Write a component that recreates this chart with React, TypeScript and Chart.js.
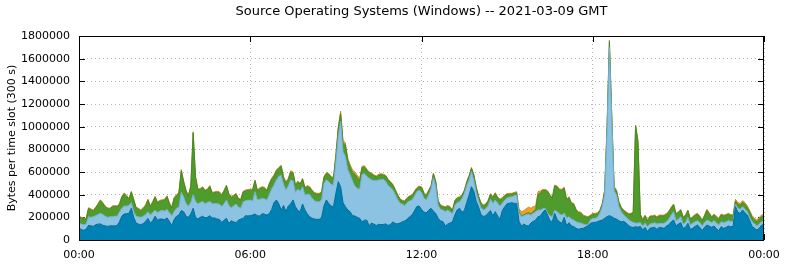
import React, { useEffect, useRef } from "react";
import { Chart, registerables } from "chart.js";

Chart.register(...registerables);

// 5-minute slots from 00:00 to 24:00 (289 samples); values in kB, cumulative layer tops
const slotMinutes = 5;
const titleText = "Source Operating Systems (Windows) -- 2021-03-09 GMT";
const yAxisTitle = "Bytes per time slot (300 s)";
const yTicksMax = 1800000;
const yTickStep = 200000;
const xTickStepMinutes = 360;

// top of the dark blue layer
const darkTop = [
  105, 92, 85, 95, 130, 125, 120, 135, 140, 142,
  130, 125, 120, 125, 125, 125, 128, 160, 210, 230,
  232, 235, 280, 200, 150, 140, 135, 145, 165, 190,
  150, 170, 210, 175, 185, 185, 180, 195, 165, 125,
  180, 210, 220, 260, 250, 210, 200, 230, 280, 200,
  185, 200, 210, 195, 200, 215, 195, 195, 185, 182,
  155, 175, 191, 145, 170, 160, 153, 175, 185, 190,
  215, 212, 215, 220, 229, 215, 212, 232, 228, 220,
  232, 270, 330, 353, 320, 265, 305, 250, 300, 320,
  353, 294, 260, 250, 318, 265, 230, 205, 192, 185,
  182, 182, 200, 300, 353, 323, 300, 294, 412, 515,
  470, 330, 294, 265, 250, 215, 212, 200, 191, 160,
  175, 175, 125, 150, 140, 128, 138, 135, 138, 142,
  128, 140, 160, 145, 143, 150, 162, 168, 185, 205,
  220, 255, 295, 300, 270, 245, 240, 262, 280, 255,
  235, 190, 170, 162, 125, 140, 150, 160, 220, 265,
  280, 245, 260, 330, 395, 470, 430, 340, 290, 225,
  208, 215, 235, 260, 212, 250, 212, 185, 260, 294,
  320, 325, 329, 323, 323, 165, 123, 140, 128, 123,
  150, 165, 176, 206, 212, 245, 265, 220, 170, 162,
  235, 182, 160, 147, 200, 125, 153, 125, 118, 103,
  94, 100, 103, 115, 123, 147, 153, 155, 162, 170,
  176, 191, 206, 215, 206, 191, 185, 170, 160, 165,
  150, 130, 115, 110, 118, 112, 120, 88, 112, 74,
  103, 108, 112, 94, 112, 108, 103, 123, 135, 160,
  176, 123, 141, 153, 103, 112, 147, 94, 103, 120,
  132, 112, 82, 112, 132, 122, 112, 123, 100, 82,
  118, 103, 110, 123, 118, 118, 294, 245, 235, 265,
  240, 220, 170, 120, 103, 88, 103, 132, 135,
];

// top of the light blue layer
const lightTop = [
  150, 140, 135, 140, 205, 200, 205, 215, 225, 235,
  225, 210, 200, 205, 205, 210, 210, 245, 280, 300,
  300, 305, 330, 250, 210, 205, 200, 210, 225, 250,
  220, 240, 265, 240, 255, 260, 255, 270, 240, 215,
  250, 280, 290, 420, 380, 320, 300, 330, 400, 340,
  320, 330, 340, 320, 330, 340, 320, 322, 320, 318,
  296, 320, 353, 305, 282, 300, 318, 290, 282, 335,
  347, 350, 353, 344, 426, 353, 359, 368, 362, 353,
  400, 450, 485, 530, 560, 573, 490, 441, 476, 530,
  520, 420, 450, 430, 470, 397, 405, 400, 368, 345,
  338, 338, 353, 500, 530, 515, 490, 485, 690, 912,
  1050, 780, 735, 620, 573, 520, 475, 455, 447, 580,
  585, 560, 544, 530, 525, 523, 530, 532, 535, 515,
  480, 460, 440, 400, 355, 325, 315, 302, 330, 345,
  353, 385, 425, 441, 420, 370, 353, 397, 450, 550,
  470, 305, 270, 265, 250, 262, 250, 229, 305, 330,
  338, 365, 410, 480, 530, 605, 530, 420, 345, 285,
  265, 275, 300, 360, 323, 353, 325, 300, 325, 353,
  370, 378, 382, 390, 397, 240, 206, 215, 225, 229,
  220, 235, 250, 265, 265, 275, 280, 235, 215, 206,
  265, 250, 230, 220, 235, 195, 206, 185, 176, 162,
  153, 150, 141, 135, 132, 176, 191, 191, 200, 235,
  294, 400, 950, 1700, 1050, 430, 400, 294, 250, 220,
  200, 180, 165, 155, 150, 150, 153, 123, 147, 118,
  141, 145, 153, 141, 147, 147, 147, 162, 185, 220,
  250, 170, 182, 206, 141, 153, 200, 132, 147, 160,
  170, 153, 123, 153, 176, 165, 153, 170, 150, 132,
  162, 153, 160, 170, 165, 162, 318, 280, 270, 294,
  270, 250, 200, 160, 141, 123, 141, 162, 165,
];

// top of the green layer
const greenTop = [
  204, 192, 187, 182, 277, 267, 254, 282, 312, 347,
  322, 292, 277, 272, 292, 297, 292, 312, 377, 407,
  387, 357, 422, 352, 282, 272, 257, 277, 302, 352,
  292, 332, 377, 327, 342, 347, 352, 382, 322, 282,
  367, 392, 412, 612, 512, 432, 387, 472, 945, 552,
  442, 447, 462, 432, 442, 472, 412, 417, 422, 418,
  392, 432, 477, 402, 377, 387, 404, 362, 352, 422,
  433, 437, 439, 439, 522, 433, 452, 462, 457, 433,
  492, 537, 565, 610, 632, 650, 548, 503, 532, 598,
  590, 480, 510, 492, 536, 457, 472, 462, 433, 412,
  404, 404, 418, 552, 586, 580, 552, 545, 740, 980,
  1115, 860, 836, 700, 642, 598, 580, 550, 524, 638,
  645, 617, 592, 582, 567, 557, 572, 577, 572, 562,
  527, 507, 482, 437, 392, 357, 342, 339, 367, 382,
  389, 422, 452, 468, 462, 412, 389, 433, 472, 582,
  512, 342, 302, 292, 286, 297, 287, 257, 342, 367,
  374, 392, 432, 507, 562, 632, 572, 462, 382, 322,
  302, 312, 342, 402, 374, 410, 372, 352, 367, 389,
  402, 404, 404, 412, 416, 248, 214, 222, 233, 240,
  232, 250, 270, 400, 418, 437, 439, 427, 392, 368,
  477, 468, 442, 439, 457, 352, 374, 322, 315, 262,
  242, 237, 212, 204, 198, 212, 227, 227, 232, 257,
  315, 433, 990, 1750, 1090, 462, 432, 330, 282, 257,
  242, 227, 227, 237, 1005, 870, 222, 174, 212, 168,
  204, 207, 212, 198, 212, 212, 212, 227, 247, 282,
  310, 227, 242, 262, 198, 212, 257, 183, 198, 217,
  227, 204, 168, 212, 262, 232, 198, 221, 202, 183,
  221, 212, 217, 227, 217, 212, 344, 315, 308, 332,
  315, 285, 245, 200, 176, 161, 185, 205, 215,
];

// top of the orange layer (total)
const orangeTop = [
  212, 200, 195, 190, 285, 275, 262, 290, 320, 355,
  330, 300, 285, 280, 300, 305, 300, 320, 385, 415,
  395, 365, 430, 360, 290, 280, 265, 285, 310, 360,
  300, 340, 385, 335, 350, 355, 360, 390, 330, 290,
  375, 400, 420, 620, 520, 440, 395, 480, 955, 560,
  450, 455, 470, 440, 450, 480, 420, 425, 430, 426,
  400, 440, 485, 410, 385, 395, 412, 370, 360, 430,
  441, 445, 447, 447, 530, 441, 460, 470, 465, 441,
  500, 545, 573, 618, 640, 659, 560, 515, 544, 610,
  600, 490, 520, 500, 544, 465, 480, 470, 441, 420,
  412, 412, 426, 560, 594, 588, 560, 553, 760, 1000,
  1135, 880, 856, 720, 662, 618, 600, 570, 544, 650,
  655, 625, 600, 590, 575, 565, 580, 585, 580, 570,
  535, 515, 490, 445, 400, 365, 350, 347, 375, 390,
  397, 430, 460, 476, 470, 420, 397, 441, 480, 590,
  520, 350, 310, 300, 294, 305, 295, 265, 350, 375,
  382, 400, 440, 515, 570, 640, 580, 470, 390, 330,
  310, 320, 350, 410, 382, 418, 380, 360, 375, 397,
  410, 412, 412, 420, 426, 275, 250, 258, 275, 290,
  280, 295, 300, 426, 435, 445, 447, 435, 400, 376,
  485, 476, 450, 447, 465, 360, 382, 330, 323, 270,
  250, 245, 220, 212, 206, 220, 235, 235, 240, 265,
  323, 441, 1000, 1765, 1100, 470, 440, 338, 290, 265,
  250, 235, 235, 245, 1015, 880, 230, 182, 220, 176,
  212, 215, 220, 206, 220, 220, 220, 235, 255, 290,
  318, 235, 250, 270, 206, 220, 265, 191, 206, 225,
  235, 212, 176, 220, 270, 240, 206, 229, 210, 191,
  229, 220, 225, 235, 225, 220, 359, 330, 323, 347,
  330, 300, 260, 215, 191, 176, 200, 220, 230,
];

const toPoints = (arr: number[]) =>
  arr.map((v, i) => ({ x: i * slotMinutes, y: v * 1000 }));

const fmtTime = (m: number) => {
  const mm = ((m % 1440) + 1440) % 1440;
  const h = Math.floor(mm / 60);
  const mi = Math.round(mm % 60);
  return String(h).padStart(2, "0") + ":" + String(mi).padStart(2, "0");
};

const framePlugin = {
  id: "frameTicks",
  beforeDatasetsDraw(chart: any) {
    const { ctx, chartArea: a, scales } = chart;
    ctx.save();
    ctx.strokeStyle = "#000";
    ctx.lineWidth = 1;
    ctx.beginPath();
    scales.y.ticks.forEach((t: any) => {
      const y = Math.round(scales.y.getPixelForValue(t.value)) + 0.5;
      ctx.moveTo(a.left, y);
      ctx.lineTo(a.left + 6, y);
      ctx.moveTo(a.right - 6, y);
      ctx.lineTo(a.right, y);
    });
    scales.x.ticks.forEach((t: any) => {
      const x = Math.round(scales.x.getPixelForValue(t.value)) + 0.5;
      ctx.moveTo(x, a.top);
      ctx.lineTo(x, a.top + 6);
      ctx.moveTo(x, a.bottom - 6);
      ctx.lineTo(x, a.bottom);
    });
    ctx.stroke();
    ctx.restore();
  },
  afterDraw(chart: any) {
    const { ctx, chartArea: a } = chart;
    ctx.save();
    ctx.strokeStyle = "#000";
    ctx.lineWidth = 1;
    ctx.strokeRect(
      Math.round(a.left) + 0.5,
      Math.round(a.top) + 0.5,
      Math.round(a.right - a.left) - 1,
      Math.round(a.bottom - a.top)
    );
    ctx.restore();
  },
};

export default function App() {
  const ref = useRef<HTMLCanvasElement | null>(null);
  useEffect(() => {
    if (!ref.current) return;
    Chart.defaults.font.family = "'DejaVu Sans', sans-serif";
    Chart.defaults.color = "#000";
    const ds = (data: number[], fill: any, bg: string, border: string) => ({
      data: toPoints(data),
      fill,
      backgroundColor: bg,
      borderColor: border,
      borderWidth: 1,
      pointRadius: 0,
      tension: 0,
    });
    const chart = new Chart(ref.current, {
      type: "line",
      data: {
        datasets: [
          ds(darkTop, "origin", "#0081b3", "#006a98"),
          ds(lightTop, "-1", "#8cc3e3", "#70acd4"),
          ds(greenTop, "-1", "#4f9b2c", "#3f8a22"),
          ds(orangeTop, "-1", "#f0a024", "#c98a2a"),
        ],
      },
      options: {
        animation: false,
        responsive: false,
        events: [],
        layout: { padding: { right: 21, left: 0, top: 0, bottom: 0 } },
        plugins: {
          legend: { display: false },
          tooltip: { enabled: false },
          title: {
            display: true,
            text: titleText,
            fullSize: false,
            font: { size: 13, weight: "normal" },
            color: "#000",
            padding: { top: 4, bottom: 16.4 },
          },
        },
        scales: {
          x: {
            type: "linear",
            min: 0,
            max: 1440,
            ticks: {
              stepSize: xTickStepMinutes,
              callback: (v: any) => fmtTime(Number(v)),
              font: { size: 11 },
              color: "#000",
              padding: 9,
              maxRotation: 0,
            },
            grid: { color: "#b4b4b4", drawTicks: false, lineWidth: 1 },
            border: { display: false, dash: [1, 3] },
            afterFit: (s: any) => {
              s.height = 24;
              s.paddingLeft = 0;
              s.paddingRight = 0;
            },
          },
          y: {
            min: 0,
            max: yTicksMax,
            ticks: {
              stepSize: yTickStep,
              callback: (v: any) => String(v),
              font: { size: 11 },
              color: "#000",
              padding: 9,
            },
            grid: { color: "#b4b4b4", drawTicks: false, lineWidth: 1 },
            border: { display: false, dash: [1, 3] },
            title: {
              display: true,
              text: yAxisTitle,
              font: { size: 11 },
              color: "#000",
              padding: { top: 6, bottom: 0 },
            },
            afterFit: (s: any) => {
              s.width = 79;
            },
          },
        },
      },
      plugins: [framePlugin],
    } as any);
    return () => chart.destroy();
  }, []);
  return (
    <div style={{ position: "absolute", left: 0, top: 0, width: 785, height: 264, background: "#fff" }}>
      <canvas ref={ref} width={785} height={264} style={{ display: "block" }} />
    </div>
  );
}
